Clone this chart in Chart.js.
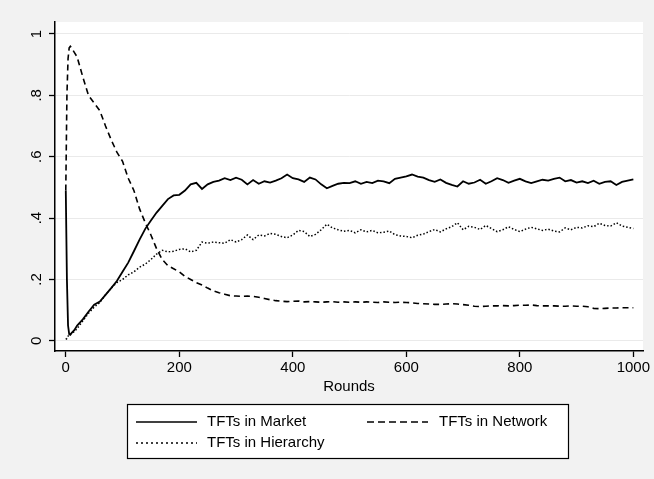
<!DOCTYPE html>
<html>
<head>
<meta charset="utf-8">
<script src="https://cdn.jsdelivr.net/npm/chart.js@4.4.1/dist/chart.umd.min.js"></script>
<style>
  html, body { margin: 0; padding: 0; background: #f2f2f2; }
  #wrap { width: 654px; height: 479px; }
</style>
</head>
<body>
<div id="wrap"><canvas id="tftChart" width="654" height="479"></canvas></div>
<script>
// rounds (x values)
const rounds = [0, 2, 4, 6, 8, 10, 15,
  20, 30, 40, 50, 60, 70, 80, 90, 100,
  110, 120, 130, 140, 150, 160, 170, 180, 190, 200,
  210, 220, 230, 240, 250, 260, 270, 280, 290, 300,
  310, 320, 330, 340, 350, 360, 370, 380, 390, 400,
  410, 420, 430, 440, 450, 460, 470, 480, 490, 500,
  510, 520, 530, 540, 550, 560, 570, 580, 590, 600,
  610, 620, 630, 640, 650, 660, 670, 680, 690, 700,
  710, 720, 730, 740, 750, 760, 770, 780, 790, 800,
  810, 820, 830, 840, 850, 860, 870, 880, 890, 900,
  910, 920, 930, 940, 950, 960, 970, 980, 990, 1000];

const market = [0.49, 0.20, 0.05, 0.022, 0.02, 0.025, 0.035,
  0.05, 0.07, 0.095, 0.118, 0.128, 0.15, 0.172, 0.195, 0.225,
  0.255, 0.292, 0.33, 0.365, 0.392, 0.418, 0.44, 0.462, 0.474, 0.476,
  0.49, 0.51, 0.515, 0.495, 0.51, 0.518, 0.522, 0.53, 0.524, 0.532,
  0.525, 0.51, 0.524, 0.512, 0.52, 0.516, 0.522, 0.53, 0.542, 0.53,
  0.526, 0.518, 0.532, 0.526, 0.51, 0.497, 0.505, 0.512, 0.515, 0.514,
  0.52, 0.512, 0.518, 0.514, 0.522, 0.52, 0.514, 0.528, 0.532, 0.536,
  0.542, 0.535, 0.532, 0.524, 0.518, 0.526, 0.515, 0.508, 0.503, 0.52,
  0.512, 0.516, 0.525, 0.512, 0.52, 0.53, 0.524, 0.515, 0.522, 0.528,
  0.52, 0.514, 0.52, 0.525, 0.522, 0.528, 0.532, 0.52, 0.524, 0.516,
  0.52, 0.514, 0.522, 0.512, 0.518, 0.52, 0.508, 0.518, 0.522, 0.526];

const network = [0.49, 0.80, 0.92, 0.955, 0.96, 0.955, 0.94,
  0.925, 0.86, 0.80, 0.775, 0.75, 0.70, 0.655, 0.615, 0.585,
  0.53, 0.49, 0.43, 0.385, 0.345, 0.30, 0.265, 0.245, 0.235, 0.225,
  0.21, 0.20, 0.19, 0.182, 0.172, 0.163, 0.157, 0.152, 0.147, 0.146,
  0.145, 0.146, 0.145, 0.142, 0.138, 0.134, 0.131, 0.129, 0.128, 0.129,
  0.13, 0.127, 0.128, 0.127, 0.126, 0.127, 0.128, 0.126, 0.127, 0.126,
  0.127, 0.126, 0.127, 0.126, 0.125, 0.127, 0.126, 0.125, 0.126, 0.125,
  0.124, 0.122, 0.121, 0.12, 0.119, 0.119, 0.12, 0.121, 0.12, 0.118,
  0.116, 0.113, 0.112, 0.113, 0.114, 0.114, 0.115, 0.114, 0.115, 0.116,
  0.116, 0.117, 0.115, 0.114, 0.114, 0.114, 0.113, 0.113, 0.114, 0.113,
  0.113, 0.111, 0.106, 0.105, 0.106, 0.107, 0.107, 0.108, 0.108, 0.108];

const hierarchy = [0.005, 0.008, 0.015, 0.022, 0.022, 0.025, 0.03,
  0.04, 0.065, 0.09, 0.11, 0.125, 0.15, 0.172, 0.19, 0.2,
  0.215, 0.225, 0.24, 0.25, 0.265, 0.283, 0.295, 0.29, 0.292, 0.298,
  0.3, 0.29, 0.295, 0.322, 0.318, 0.322, 0.32, 0.318, 0.33, 0.322,
  0.33, 0.345, 0.33, 0.345, 0.342, 0.35, 0.347, 0.34, 0.336, 0.345,
  0.36, 0.356, 0.34, 0.347, 0.362, 0.38, 0.368, 0.362, 0.357, 0.36,
  0.352, 0.362, 0.355, 0.36, 0.352, 0.354, 0.358, 0.346, 0.342, 0.34,
  0.336, 0.344, 0.348, 0.356, 0.363, 0.355, 0.365, 0.372, 0.385, 0.362,
  0.373, 0.37, 0.363, 0.376, 0.366, 0.356, 0.362, 0.372, 0.363, 0.356,
  0.364, 0.37, 0.365, 0.36, 0.364, 0.358, 0.355, 0.368, 0.362, 0.37,
  0.368, 0.375, 0.372, 0.383, 0.376, 0.374, 0.385, 0.374, 0.37, 0.366];

const xTicks = [0, 200, 400, 600, 800, 1000];
const yTicks = [0, 0.2, 0.4, 0.6, 0.8, 1];
const yTickLabels = ['0', '.2', '.4', '.6', '.8', '1'];
const seriesNames = ['TFTs in Market', 'TFTs in Network', 'TFTs in Hierarchy'];

const FONT = 'Liberation Sans, Arial, Helvetica, sans-serif';

function pts(ys) {
  return rounds.map((r, i) => ({ x: r, y: ys[i] }));
}

// fondo gris + area blanca
const bgPlugin = {
  id: 'bg',
  beforeDraw(chart) {
    const { ctx, chartArea: a } = chart;
    ctx.save();
    ctx.fillStyle = '#f2f2f2';
    ctx.fillRect(0, 0, chart.width, chart.height);
    ctx.fillStyle = '#ffffff';
    ctx.fillRect(a.left - 1, a.top, a.right - a.left + 1, a.bottom - a.top);
    ctx.restore();
  }
};

// leyenda con recuadro, estilo Stata
const boxLegend = {
  id: 'boxLegend',
  afterDraw(chart) {
    const ctx = chart.ctx;
    const ds = chart.data.datasets;
    const box = { x: 127.5, y: 404.5, w: 441, h: 54 };
    const rows = [422, 443];
    const cols = [{ s: 136, e: 197, t: 207 }, { s: 367, e: 428, t: 439 }];
    const slots = [[0, 0], [1, 0], [0, 1]];
    ctx.save();
    ctx.fillStyle = '#fff';
    ctx.fillRect(box.x, box.y, box.w, box.h);
    ctx.strokeStyle = '#000';
    ctx.lineWidth = 1.2;
    ctx.strokeRect(box.x, box.y, box.w, box.h);
    ctx.font = '15px ' + FONT;
    ctx.textBaseline = 'middle';
    ctx.textAlign = 'left';
    ds.forEach((d, i) => {
      const c = cols[slots[i][0]];
      const y = rows[slots[i][1]];
      ctx.beginPath();
      ctx.setLineDash(d.legendDash || []);
      ctx.lineWidth = 1.5;
      ctx.strokeStyle = '#000';
      ctx.moveTo(c.s, y);
      ctx.lineTo(c.e, y);
      ctx.stroke();
      ctx.setLineDash([]);
      ctx.fillStyle = '#000';
      ctx.fillText(d.label, c.t, y);
    });
    ctx.restore();
  }
};

new Chart(document.getElementById('tftChart'), {
  type: 'line',
  data: {
    datasets: [
      { label: seriesNames[0], data: pts(market), borderColor: '#000', borderWidth: 1.8,
        pointRadius: 0, tension: 0, legendDash: [] },
      { label: seriesNames[1], data: pts(network), borderColor: '#000', borderWidth: 1.6,
        borderDash: [6, 4], pointRadius: 0, tension: 0, legendDash: [7, 4] },
      { label: seriesNames[2], data: pts(hierarchy), borderColor: '#000', borderWidth: 1.5,
        borderDash: [1.5, 2], pointRadius: 0, tension: 0, legendDash: [2, 3] }
    ]
  },
  options: {
    responsive: false,
    animation: false,
    devicePixelRatio: 1,
    layout: { padding: { top: 22, right: 11, bottom: 82, left: 0 } },
    plugins: {
      legend: { display: false },
      tooltip: { enabled: false }
    },
    scales: {
      x: {
        type: 'linear',
        min: -19,
        max: 1017,
        afterFit: (s) => { s.height = 46; },
        afterBuildTicks: (s) => { s.ticks = xTicks.map(v => ({ value: v })); },
        border: { display: true, color: '#000', width: 1.5 },
        grid: { drawOnChartArea: false, drawTicks: true, tickLength: 6, tickColor: '#000', tickWidth: 1.3 },
        ticks: { color: '#000', padding: 2, maxRotation: 0, font: { family: FONT, size: 15 },
          callback: (v) => String(v) },
        title: { display: true, text: 'Rounds', color: '#000', font: { family: FONT, size: 15 },
          padding: { top: 0, bottom: 1 } }
      },
      y: {
        type: 'linear',
        min: -0.033,
        max: 1.039,
        afterFit: (s) => { s.width = 55; },
        afterBuildTicks: (s) => { s.ticks = yTicks.map(v => ({ value: v })); },
        border: { display: true, color: '#000', width: 1.5 },
        grid: { color: '#eaeaea', lineWidth: 1, drawTicks: true, tickLength: 6, tickColor: '#000', tickWidth: 1.3 },
        ticks: { color: '#000', padding: 6, minRotation: 90, maxRotation: 90, crossAlign: 'center',
          font: { family: FONT, size: 15 },
          callback: (v) => yTickLabels[yTicks.indexOf(v)] }
      }
    }
  },
  plugins: [bgPlugin, boxLegend]
});
</script>
</body>
</html>
